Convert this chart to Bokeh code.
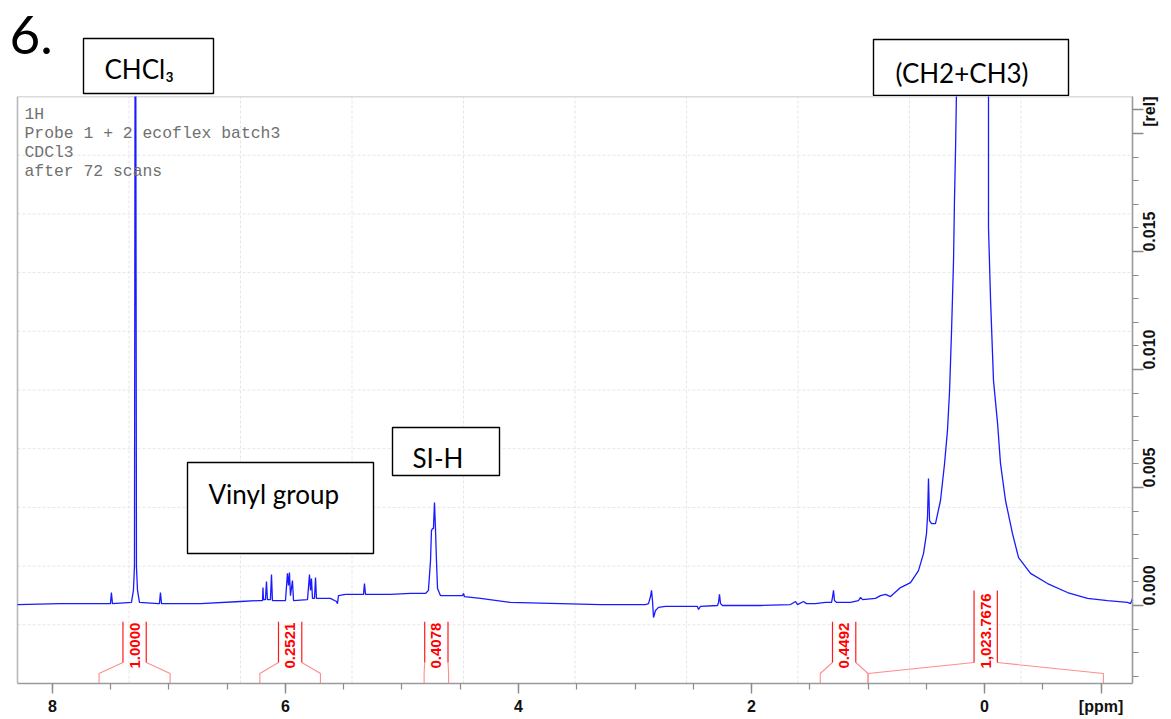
import math
import numpy as np
from bokeh.plotting import figure
from bokeh.layouts import column
from bokeh.models import (Range1d, FixedTicker, Label, BoxAnnotation, CustomJSTickFormatter)
from bokeh.embed import file_html
from bokeh.resources import INLINE
from bokeh.core.properties import value

# ---------------- data ----------------
ppm = [8.300, 7.931, 7.519, 7.502, 7.494, 7.485, 7.322, 7.305, 7.296, 7.288,
       7.279, 7.270, 7.253, 7.090, 7.082, 7.073, 7.064, 6.730, 6.386, 6.232,
       6.197, 6.193, 6.189, 6.172, 6.163, 6.155, 6.129, 6.120, 6.112, 6.000,
       5.983, 5.974, 5.966, 5.957, 5.940, 5.931, 5.811, 5.794, 5.785, 5.777,
       5.768, 5.751, 5.742, 5.734, 5.614, 5.562, 5.554, 5.545, 5.485, 5.330,
       5.322, 5.313, 5.099, 4.927, 4.798, 4.773, 4.755, 4.747, 4.738, 4.730,
       4.721, 4.712, 4.704, 4.695, 4.670, 4.481, 4.472, 4.464, 4.326, 4.069,
       3.639, 3.296, 2.910, 2.884, 2.867, 2.858, 2.850, 2.841, 2.824, 2.798,
       2.738, 2.524, 2.464, 2.455, 2.438, 2.292, 2.283, 2.275, 2.266, 2.249,
       1.923, 1.665, 1.622, 1.605, 1.554, 1.528, 1.451, 1.365, 1.313, 1.305,
       1.296, 1.288, 1.270, 1.150, 1.082, 1.064, 1.047, 0.936, 0.893, 0.850,
       0.807, 0.721, 0.635, 0.567, 0.524, 0.498, 0.489, 0.481, 0.472, 0.455,
       0.421, 0.378, 0.343, 0.318, 0.300, 0.283, 0.266, 0.258, 0.249, 0.240,
       0.103, -0.034, -0.034, -0.052, -0.077, -0.112, -0.137, -0.180, -0.240,
       -0.292, -0.395, -0.541, -0.712, -0.884, -1.056, -1.227, -1.253, -1.270]
intensity = [0.00004, 0.00008, 0.00008, 0.00008, 0.00055, 0.00008, 0.00013, 0.00064, 0.00165, 0.03500,
             0.00165, 0.00064, 0.00013, 0.00008, 0.00008, 0.00055, 0.00008, 0.00008, 0.00017, 0.00021,
             0.00021, 0.00076, 0.00025, 0.00025, 0.00102, 0.00025, 0.00025, 0.00131, 0.00021, 0.00021,
             0.00136, 0.00085, 0.00140, 0.00042, 0.00106, 0.00021, 0.00025, 0.00131, 0.00064, 0.00114,
             0.00030, 0.00030, 0.00119, 0.00030, 0.00030, 0.00017, 0.00008, 0.00042, 0.00047, 0.00047,
             0.00093, 0.00047, 0.00047, 0.00051, 0.00051, 0.00064, 0.00191, 0.00318, 0.00326, 0.00326,
             0.00436, 0.00318, 0.00191, 0.00072, 0.00042, 0.00042, 0.00051, 0.00038, 0.00030, 0.00013,
             0.00008, 0.00004, 0.00004, 0.00008, 0.00038, 0.00064, 0.00021, -0.00051, -0.00021, -0.00008,
             -0.00004, -0.00004, -0.00004, -0.00017, -0.00004, 0.00000, 0.00013, 0.00047, 0.00008, 0.00000,
             0.00000, 0.00004, 0.00017, 0.00004, 0.00017, 0.00008, 0.00008, 0.00013, 0.00013, 0.00034,
             0.00064, 0.00021, 0.00013, 0.00013, 0.00021, 0.00034, 0.00025, 0.00030, 0.00042, 0.00047,
             0.00038, 0.00076, 0.00097, 0.00148, 0.00220, 0.00305, 0.00381, 0.00538, 0.00360, 0.00347,
             0.00347, 0.00445, 0.00602, 0.00742, 0.00911, 0.01165, 0.01462, 0.01716, 0.01928, 0.02200,
             0.12000, 0.02200, 0.01602, 0.01292, 0.00953, 0.00771, 0.00602, 0.00445, 0.00305,
             0.00203, 0.00136, 0.00093, 0.00055, 0.00030, 0.00021, 0.00013, 0.00008, 0.00030]

int_start = [7.60, 6.22, 4.81, 1.41, 1.00]
int_end = [6.99, 5.70, 4.60, 1.00, -1.02]
int_labels = ["1.0000", "0.2521", "0.4078", "0.4492", "1,023.7676"]

x_ticks = [8, 6, 4, 2, 0]
x_unit_label = "[ppm]"
y_ticks = [0.000, 0.005, 0.010, 0.015, 0.020]
y_unit_label = "[rel]"

info_lines = ["1H", "Probe 1 + 2 ecoflex batch3", "CDCl3", "after 72 scans"]
panel_label = "6."
box_texts = ["CHCl₃", "(CH2+CH3)", "Vinyl group", "SI-H"]

# ---------------- layout helpers ----------------
PW, PH = 1171, 719
TOP_H = 96                                  # strip above the spectrum frame
FL, FR, FT, FB = 17, 1132, 96, 683          # visible spectrum box in page pixels
X0, X1 = 8.30, -1.27                        # ppm at FL and FR
Y0, Y1 = -0.003305, 0.02157                 # rel at FB and FT


def dx(px):
    return X0 + (px - FL) / (FR - FL) * (X1 - X0)


def dy(py):
    return Y1 + (py - FT) / (FB - FT) * (Y0 - Y1)


XL = dx(0)   # the plotting area starts at page x = 0; the box is drawn from FL

# ---------------- top strip (labels above the spectrum) ----------------
top = figure(width=PW, height=TOP_H, x_range=Range1d(0, FR), y_range=Range1d(TOP_H, 0),
             x_axis_location=None, y_axis_location=None, output_backend="svg",
             toolbar_location=None, min_border=0, min_border_right=PW - FR)
top.grid.visible = False
top.outline_line_color = None
top.background_fill_color = "white"
top.border_fill_color = "white"

top.add_layout(Label(x=9, y=34, text=panel_label, text_font="Lato",
                     text_font_size="53px", text_color="black", text_baseline="middle"))
top_boxes = [(83, 213, 38, 93), (873, 1068, 39, 95)]
top_text_pos = [(104, 68), (895, 72)]
for (l, r, t, b), (tx, tyy), txt in zip(top_boxes, top_text_pos, box_texts[:2]):
    top.add_layout(BoxAnnotation(left=l, right=r, top=t, bottom=b, fill_color="white",
                                 fill_alpha=1.0, line_color="black", line_alpha=1.0,
                                 line_width=1.4))
    top.add_layout(Label(x=tx, y=tyy, text=txt, text_font="Lato", text_font_size="26px",
                         text_color="black", text_baseline="middle"))

# ---------------- main spectrum figure ----------------
H = PH - TOP_H
p = figure(width=PW, height=H, x_range=Range1d(XL, X1), y_range=Range1d(Y0, Y1),
           y_axis_location="right", output_backend="svg", toolbar_location=None,
           min_border_left=0, min_border_right=PW - FR, min_border_top=0,
           min_border_bottom=PH - FB)
p.background_fill_color = "white"
p.border_fill_color = "white"
p.outline_line_color = None
p.xgrid.visible = False
p.ygrid.visible = False

# grid: 10 equal divisions of the spectrum box (dotted, very light)
gx = [X0 + (X1 - X0) * k / 10 for k in range(1, 10)]
gy = [Y0 + (Y1 - Y0) * k / 10 for k in range(1, 10)]
p.segment(x0=gx, y0=[Y0] * 9, x1=gx, y1=[Y1] * 9, line_color="#e6e6e6",
          line_dash="3 2", line_width=1)
p.segment(x0=[X0] * 9, y0=gy, x1=[X1] * 9, y1=gy, line_color="#e6e6e6",
          line_dash="3 2", line_width=1)
# box border (left and top)
p.segment(x0=[X0, X0], y0=[Y0, Y1], x1=[X0, X1], y1=[Y1, Y1], line_color="#b8b8b8",
          line_width=1.6)

# x axis (unit label "[ppm]" sits at the -1 position)
xa = p.xaxis[0]
xa.bounds = (X1, X0)
xa.ticker = FixedTicker(ticks=x_ticks + [-1.0], minor_ticks=list(np.arange(-1.0, 8.01, 0.5)))
xa.formatter = CustomJSTickFormatter(
    code="return tick < -0.5 ? %r : tick.toFixed(0);" % x_unit_label)
xa.major_tick_out = 10
xa.major_tick_in = 0
xa.minor_tick_out = 6
xa.minor_tick_in = 0
xa.major_label_standoff = 4
# y axis (unit label "[rel]" sits above 0.020)
ya = p.yaxis[0]
ya.ticker = FixedTicker(ticks=y_ticks + [0.021],
                        minor_ticks=[round(-0.003 + 0.001 * k, 3) for k in range(25)])
ya.formatter = CustomJSTickFormatter(
    code="if (tick > 0.0205) return %r; return tick > 0.0175 ? '' : tick.toFixed(3);" % y_unit_label)
ya.major_label_orientation = math.pi / 2
ya.major_tick_out = 11
ya.major_tick_in = 0
ya.minor_tick_out = 6
ya.minor_tick_in = 0
ya.major_label_standoff = 6
for ax in (xa, ya):
    ax.axis_line_color = "#9a9a9a"
    ax.axis_line_width = 1.6
    ax.major_tick_line_color = "#8a8a8a"
    ax.minor_tick_line_color = "#8a8a8a"
    ax.major_tick_line_width = 1.4
    ax.minor_tick_line_width = 1.2
    ax.major_label_text_font = "Liberation Sans"
    ax.major_label_text_font_style = "bold"
    ax.major_label_text_font_size = "16px"
    ax.major_label_text_color = "#111111"

# spectrum
p.line(ppm, intensity, line_color="#1a1aff", line_width=1.3)

# integrals
h = 0.1
knee, foot = dy(662), dy(673)
xs_main, ys_main, xs_tail, ys_tail = [], [], [], []
cx, ty = [], []
for s, e, lab in zip(int_start, int_end, int_labels):
    c = (s + e) / 2
    top_y = dy(668 - 7.8 * len(lab))
    xs_main += [[c + h, c + h], [c - h, c - h]]
    ys_main += [[top_y, knee], [top_y, knee]]
    xs_tail += [[c + h, s, s], [c - h, e, e]]
    ys_tail += [[knee, foot, Y0], [knee, foot, Y0]]
    cx.append(c)
    ty.append(dy(668))
p.multi_line(xs_tail, ys_tail, line_color="#ff8c8c", line_width=1.1)
p.multi_line(xs_main, ys_main, line_color="#ff1a1a", line_width=1.2)
p.text(x=cx, y=ty, text=int_labels, angle=math.pi / 2, text_align="left",
       text_baseline="middle", text_font=value("Liberation Sans"), text_font_style="bold",
       text_font_size="15px", text_color="#ff0000")

# info text
for i, line in enumerate(info_lines):
    p.add_layout(Label(x=dx(24), y=dy(114 + 19 * i), text=line, text_font="Liberation Mono",
                       text_font_size="16.4px", text_color="#707070", text_baseline="middle"))

# annotation boxes inside the spectrum box
in_boxes = [(187, 373, 462, 553), (392, 499, 427, 475)]
in_text_pos = [(208, 493), (412, 457)]
for (l, r, t, b), (tx, tyy), txt in zip(in_boxes, in_text_pos, box_texts[2:]):
    p.add_layout(BoxAnnotation(left=dx(l), right=dx(r), top=dy(t), bottom=dy(b),
                               fill_color="white", fill_alpha=1.0, line_color="black",
                               line_alpha=1.0, line_width=1.4))
    p.add_layout(Label(x=dx(tx), y=dy(tyy), text=txt, text_font="Lato",
                       text_font_size="26px", text_color="black", text_baseline="middle"))

layout = column(top, p, spacing=0)
open("out.html", "w").write(file_html(layout, INLINE))
